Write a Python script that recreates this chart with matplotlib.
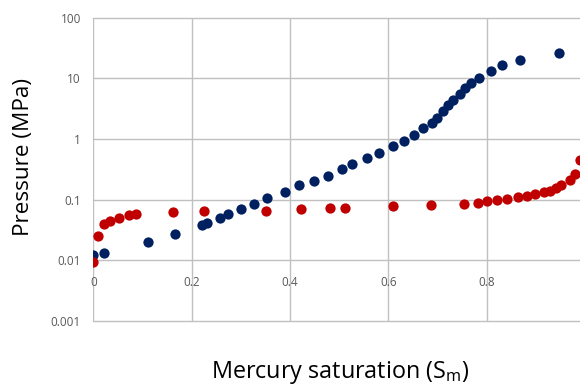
import matplotlib
matplotlib.use('Agg')
import matplotlib.pyplot as plt
from matplotlib.ticker import FixedLocator

plt.rcParams['font.family'] = ['Open Sans', 'DejaVu Sans']

# intrusion curve (blue)
sat_blue = [0.000, 0.022, 0.112, 0.166, 0.221, 0.231, 0.258, 0.273, 0.301, 0.326,
            0.354, 0.389, 0.419, 0.448, 0.478, 0.505, 0.526, 0.556, 0.582, 0.610,
            0.631, 0.653, 0.671, 0.689, 0.699, 0.712, 0.722, 0.731, 0.745, 0.757,
            0.769, 0.785, 0.809, 0.831, 0.867, 0.948]
p_blue = [0.0121, 0.0134, 0.0200, 0.0269, 0.0379, 0.0413, 0.0507, 0.0574, 0.0695, 0.0862,
          0.108, 0.134, 0.171, 0.201, 0.246, 0.318, 0.388, 0.482, 0.590, 0.760,
          0.920, 1.17, 1.49, 1.80, 2.20, 2.91, 3.61, 4.37, 5.49, 6.81,
          8.24, 10.1, 13.3, 16.3, 20.0, 25.8]

# second curve (red)
sat_red = [0.000, 0.010, 0.022, 0.034, 0.053, 0.073, 0.086, 0.163, 0.226, 0.351,
           0.422, 0.482, 0.511, 0.610, 0.687, 0.754, 0.783, 0.800, 0.822, 0.841,
           0.863, 0.882, 0.899, 0.917, 0.929, 0.941, 0.952, 0.969, 0.979, 0.989]
p_red = [0.0094, 0.0252, 0.0397, 0.0440, 0.0499, 0.0553, 0.0574, 0.0619, 0.0644, 0.0661,
         0.0703, 0.0721, 0.0741, 0.0787, 0.0808, 0.0840, 0.0896, 0.0941, 0.0977, 0.1027,
         0.1096, 0.115, 0.123, 0.134, 0.141, 0.154, 0.171, 0.209, 0.262, 0.447]

x_ticks = [0, 0.2, 0.4, 0.6, 0.8]
x_labels = ['0', '0.2', '0.4', '0.6', '0.8']
y_ticks = [0.001, 0.01, 0.1, 1, 10, 100]
y_labels = ['0.001', '0.01', '0.1', '1', '10', '100']

grid_col = '#c0c0c0'
text_col = '#595959'

fig = plt.figure(figsize=(5.8, 3.85), dpi=100)
ax = fig.add_axes([0.1609, 0.1662, 1 - 0.1609, 0.7883])

ax.set_yscale('log')
ax.set_xlim(0, 0.990)
ax.set_ylim(0.001, 100)

# gridlines
for y in y_ticks:
    ax.axhline(y, color=grid_col, lw=1.0, zorder=1, clip_on=False)
for x in x_ticks:
    ax.axvline(x, color=grid_col, lw=1.0, zorder=1)

ax.plot(sat_blue, p_blue, 'o', color='#002060', ms=7.4, mew=0, zorder=3)
ax.plot(sat_red, p_red, 'o', color='#c00000', ms=7.4, mew=0, zorder=3)

for s in ax.spines.values():
    s.set_visible(False)
# horizontal axis crosses at 0.01
ax.spines['bottom'].set_position(('data', 0.01))

ax.xaxis.set_major_locator(FixedLocator(x_ticks))
ax.set_xticklabels(x_labels)
ax.yaxis.set_major_locator(FixedLocator(y_ticks))
ax.set_yticklabels(y_labels)
ax.yaxis.set_minor_locator(FixedLocator([]))
ax.tick_params(axis='x', length=0, pad=11, labelsize=8.5, labelcolor=text_col)
ax.tick_params(axis='y', length=0, pad=9, labelsize=8.5, labelcolor=text_col)

fig.text(0.040, 0.591, 'Pressure (MPa)', rotation=90, ha='center', va='center',
         fontsize=16.2, color='#000000')
fig.text(0.587, 0.032, 'Mercury saturation (S$_\\mathregular{m}$)', ha='center', va='center',
         fontsize=16.8, color='#000000')

fig.savefig('out.png', dpi=100)
